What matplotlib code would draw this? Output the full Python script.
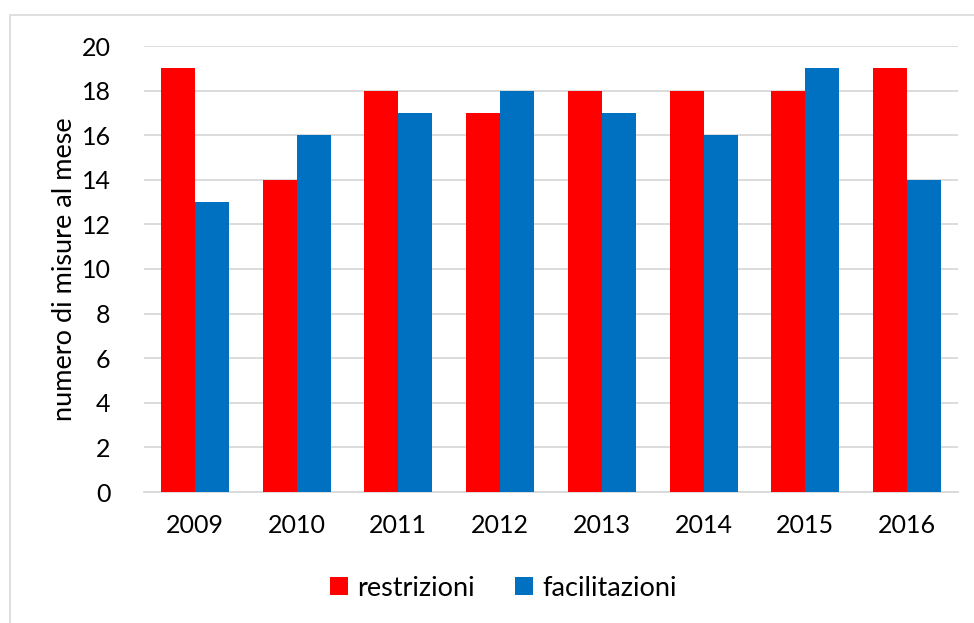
import numpy as np
import matplotlib.pyplot as plt
from matplotlib.patches import Rectangle

plt.rcParams['font.family'] = ['Lato', 'DejaVu Sans']

# data
years = ['2009', '2010', '2011', '2012', '2013', '2014', '2015', '2016']
restrizioni = [19, 14, 18, 17, 18, 18, 18, 19]
facilitazioni = [13, 16, 17, 18, 17, 16, 19, 14]

red = '#FF0000'
blue = '#0070C0'
grid_col = '#D9D9D9'

fig = plt.figure(figsize=(9.74, 6.23), dpi=100)
ax = fig.add_axes([144 / 974, 1 - 492 / 623, 814 / 974, 446 / 623])

# outer chart border (cropped at right/bottom in the original)
fig.patches.append(Rectangle((10 / 974, -0.05), 1.0, 1 - 15 / 623 + 0.05,
                             transform=fig.transFigure, fill=False,
                             edgecolor=grid_col, linewidth=1.2))

x = np.arange(len(years))
w = 0.334
ax.bar(x - w / 2, restrizioni, w, color=red, label='restrizioni', zorder=3)
ax.bar(x + w / 2, facilitazioni, w, color=blue, label='facilitazioni', zorder=3)

ax.set_xlim(-0.5, len(years) - 0.5)
ax.set_ylim(0, 20)
ax.set_yticks(range(0, 21, 2))
ax.set_xticks(x)
ax.set_xticklabels(years)
ax.tick_params(axis='both', length=0, labelsize=18, colors='black')
ax.tick_params(axis='x', pad=16)
ax.tick_params(axis='y', pad=24)
ax.yaxis.grid(True, color=grid_col, linewidth=1.3, zorder=0)
ax.set_axisbelow(True)
for s in ['top', 'right', 'left']:
    ax.spines[s].set_visible(False)
ax.spines['bottom'].set_color(grid_col)
ax.spines['bottom'].set_linewidth(1.3)

ax.set_ylabel('numero di misure al mese', fontsize=19.5)
ax.yaxis.set_label_coords(-0.082, 0.5)

fig.legend(loc='center', bbox_to_anchor=(0.517, 1 - 588 / 623), ncol=2,
           frameon=False, fontsize=19.5, handlelength=0.65, handleheight=0.65,
           handletextpad=0.35, columnspacing=1.5)

fig.savefig('out.png', dpi=100)
